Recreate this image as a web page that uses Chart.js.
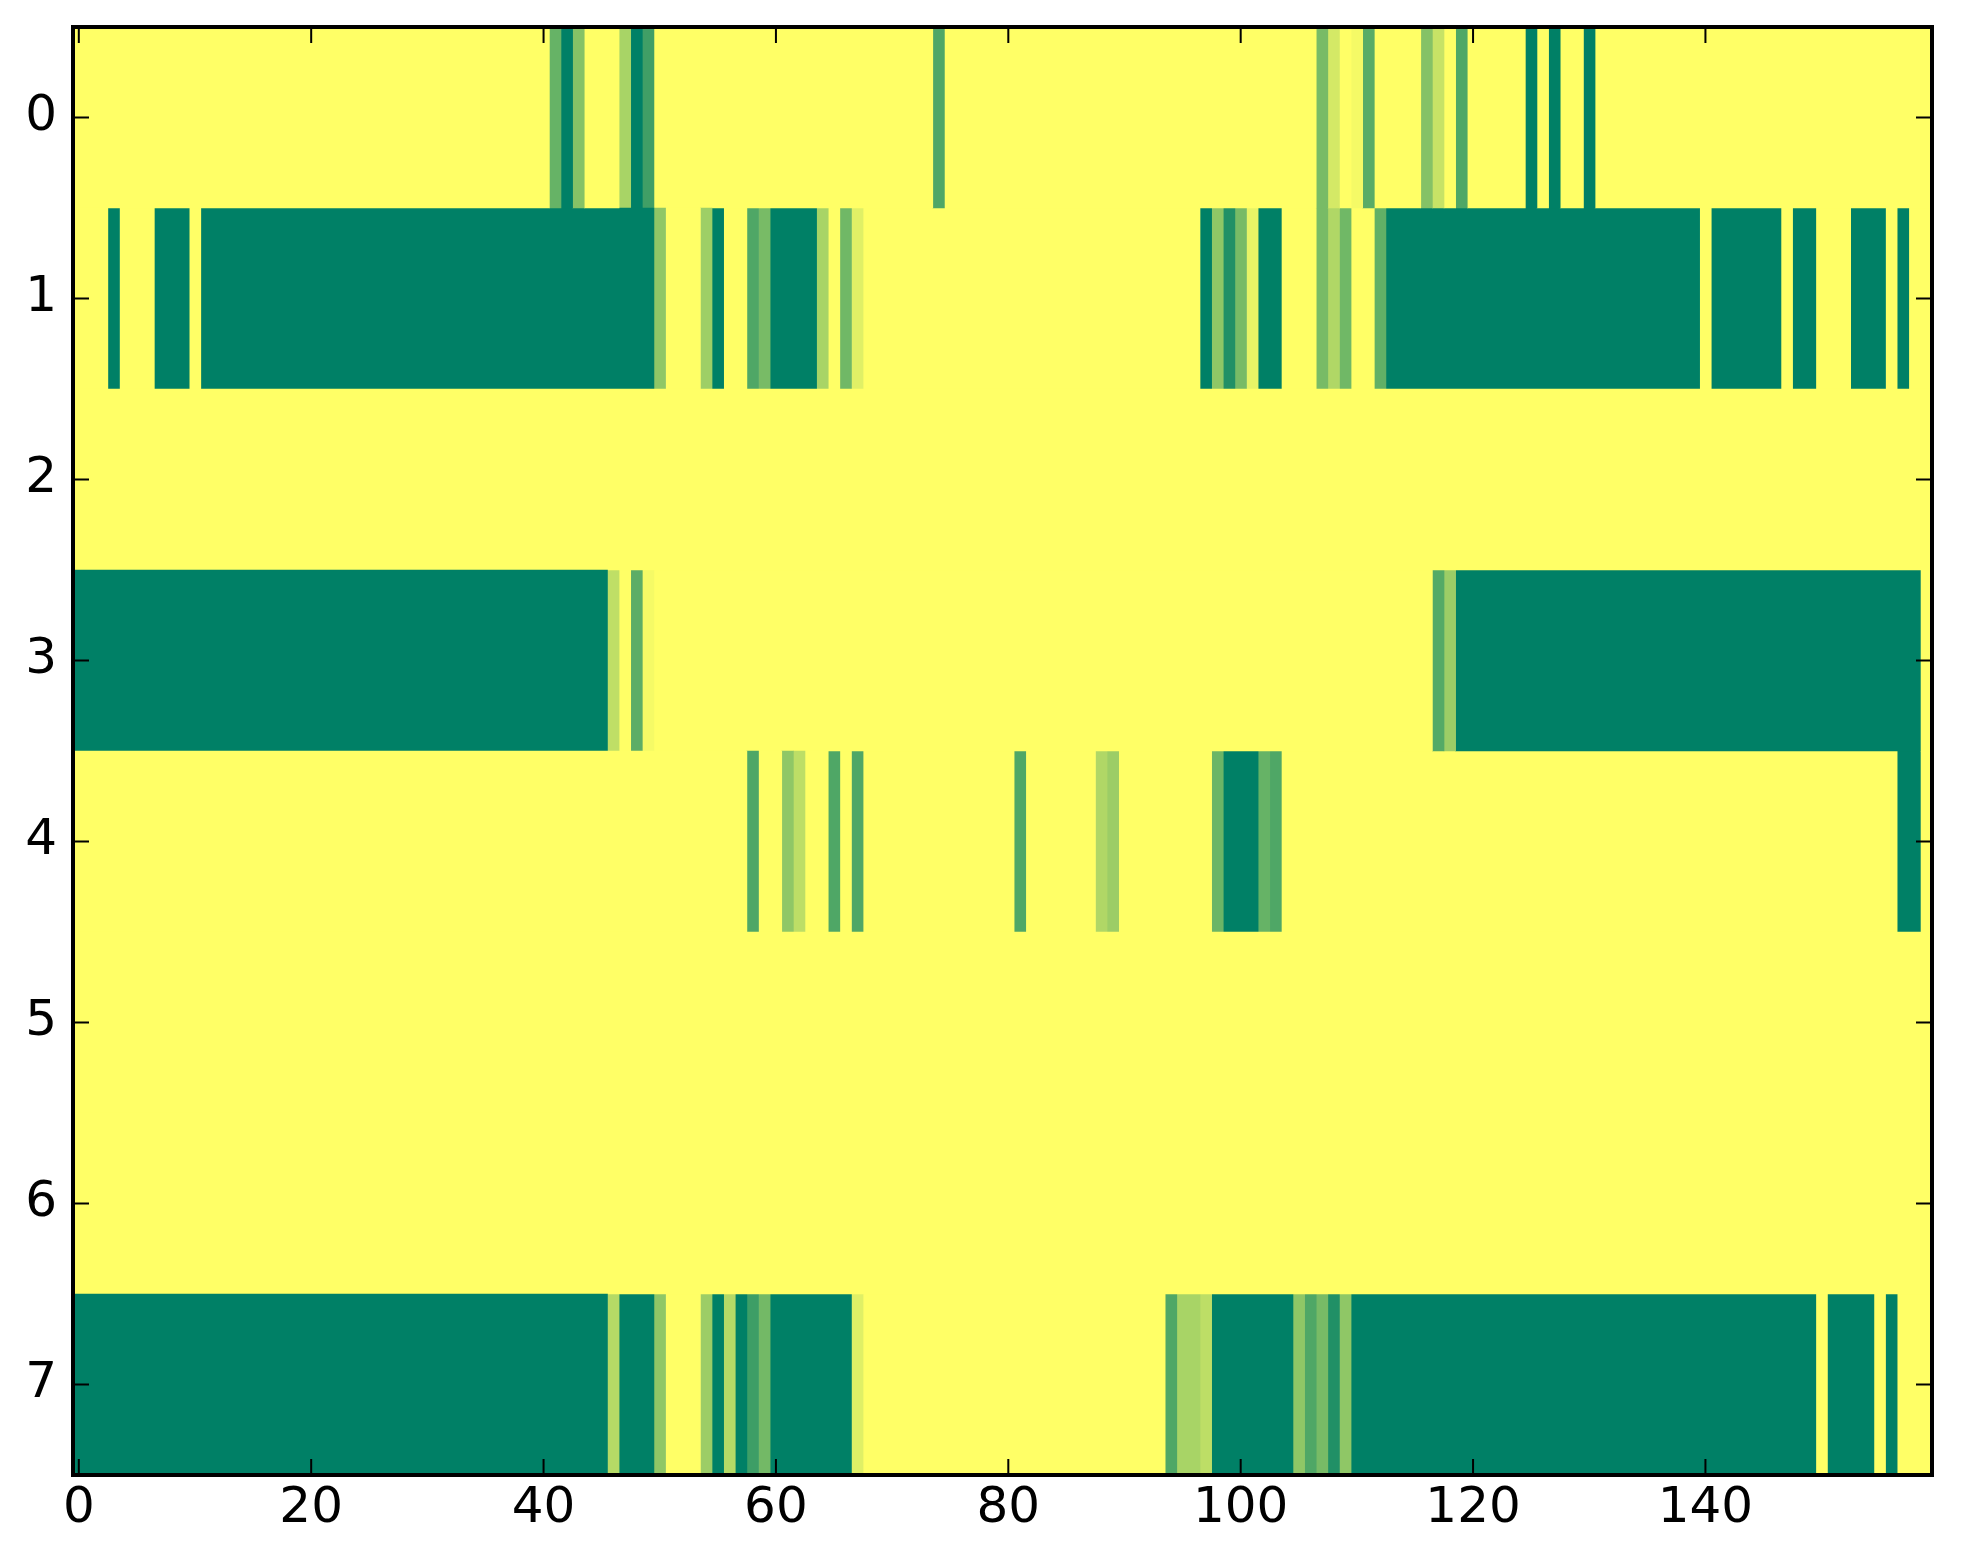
<!DOCTYPE html>
<html>
<head>
<meta charset="utf-8">
<script src="https://cdn.jsdelivr.net/npm/chart.js@4.4.0/dist/chart.umd.min.js"></script>
<style>
  html, body { margin: 0; padding: 0; background: #fff; }
  canvas { display: block; }
</style>
</head>
<body>
<canvas id="heat" width="1963" height="1564"></canvas>
<script>
// 8 rows x 160 columns, values 0..1 (summer colormap)
// every cell is 1 unless listed as [firstCol, lastCol, value]
const nCols = 160;
const rowLabels = ["0", "1", "2", "3", "4", "5", "6", "7"];
const xTicks = [0, 20, 40, 60, 80, 100, 120, 140];

const row0 = [
  [41, 41, 0.40], [42, 42, 0], [43, 43, 0.52], [47, 47, 0.66], [48, 48, 0],
  [49, 49, 0.25], [74, 74, 0.31], [107, 107, 0.47], [108, 108, 0.83],
  [110, 110, 0.96], [111, 111, 0.35], [116, 116, 0.52], [117, 117, 0.78],
  [119, 119, 0.31], [125, 125, 0], [127, 127, 0], [130, 130, 0],
];
const row1 = [
  [3, 3, 0], [7, 9, 0], [11, 49, 0], [50, 50, 0.56], [54, 54, 0.62],
  [55, 55, 0], [58, 58, 0.31], [59, 59, 0.47], [60, 63, 0], [64, 64, 0.66],
  [66, 66, 0.44], [67, 67, 0.88], [97, 97, 0], [98, 98, 0.56], [99, 99, 0.13],
  [100, 100, 0.47], [101, 101, 0.91], [102, 103, 0], [107, 107, 0.47],
  [108, 108, 0.69], [109, 109, 0.44], [112, 112, 0.38], [113, 139, 0],
  [141, 146, 0], [148, 149, 0], [153, 155, 0], [157, 157, 0],
];
const row2 = [];
const row3 = [
  [0, 45, 0], [46, 46, 0.75], [48, 48, 0.36], [49, 49, 0.96],
  [117, 117, 0.33], [118, 118, 0.61], [119, 158, 0],
];
const row4 = [
  [58, 58, 0.31], [61, 61, 0.56], [62, 62, 0.74], [65, 65, 0.31],
  [67, 67, 0.31], [81, 81, 0.31], [88, 88, 0.69], [89, 89, 0.61],
  [98, 98, 0.42], [99, 101, 0], [102, 102, 0.40], [103, 103, 0.31],
  [157, 158, 0],
];
const row5 = [];
const row6 = [];
const row7 = [
  [0, 45, 0], [46, 46, 0.71], [47, 49, 0], [50, 50, 0.56], [54, 54, 0.61],
  [55, 55, 0], [56, 56, 0.71], [57, 57, 0], [58, 58, 0.24], [59, 59, 0.45],
  [60, 66, 0], [67, 67, 0.88], [94, 94, 0.31], [95, 96, 0.66], [97, 97, 0.74],
  [98, 104, 0], [105, 105, 0.56], [106, 106, 0.31], [107, 107, 0.47],
  [108, 108, 0.13], [109, 109, 0.56], [110, 149, 0], [151, 154, 0],
  [156, 156, 0],
];
const rows = [row0, row1, row2, row3, row4, row5, row6, row7];

// matplotlib "summer": (v, 0.5 + 0.5v, 0.4)
function summer(v) {
  const r = Math.round(255 * v);
  const g = Math.round(255 * (0.5 + 0.5 * v));
  return `rgb(${r},${g},102)`;
}

// expand to full grid, then merge equal neighbours into runs
const runsPerRow = rows.map((segs) => {
  const cells = new Array(nCols).fill(1);
  segs.forEach(([a, b, v]) => {
    for (let c = a; c <= b; c++) cells[c] = v;
  });
  const runs = [];
  cells.forEach((v, c) => {
    const last = runs[runs.length - 1];
    if (last && last.v === v) last.end = c;
    else runs.push({ start: c, end: c, v: v });
  });
  return runs;
});

const maxRuns = Math.max(...runsPerRow.map((r) => r.length));
const datasets = [];
for (let k = 0; k < maxRuns; k++) {
  datasets.push({
    data: runsPerRow.map((runs) =>
      runs[k] ? [runs[k].start - 0.5, runs[k].end + 0.5] : null
    ),
    backgroundColor: runsPerRow.map((runs) =>
      runs[k] ? summer(runs[k].v) : "rgba(0,0,0,0)"
    ),
    borderWidth: 0,
    grouped: false,
    barPercentage: 1,
    categoryPercentage: 1,
  });
}

// inward ticks on all four sides plus the frame, like matplotlib classic
const frameTicks = {
  id: "frameTicks",
  afterDraw(chart) {
    const { ctx, chartArea: a, scales } = chart;
    ctx.save();
    ctx.strokeStyle = "#000";
    ctx.lineWidth = 2;
    ctx.beginPath();
    xTicks.forEach((v) => {
      const px = scales.x.getPixelForValue(v);
      ctx.moveTo(px, a.bottom);
      ctx.lineTo(px, a.bottom - 16);
      ctx.moveTo(px, a.top);
      ctx.lineTo(px, a.top + 16);
    });
    rowLabels.forEach((l, i) => {
      const py = scales.y.getPixelForValue(i);
      ctx.moveTo(a.left, py);
      ctx.lineTo(a.left + 16, py);
      ctx.moveTo(a.right, py);
      ctx.lineTo(a.right - 16, py);
    });
    ctx.stroke();
    ctx.lineWidth = 4;
    ctx.strokeRect(a.left, a.top, a.right - a.left, a.bottom - a.top);
    ctx.restore();
  },
};

function noPadding(scale) {
  scale.paddingTop = 0;
  scale.paddingBottom = 0;
  scale.paddingLeft = 0;
  scale.paddingRight = 0;
}

const ctx = document.getElementById("heat").getContext("2d");
const heatChart = new Chart(ctx, {
  type: "bar",
  data: { labels: rowLabels, datasets: datasets },
  options: {
    indexAxis: "y",
    responsive: false,
    animation: false,
    devicePixelRatio: 1,
    layout: { padding: { top: 27, right: 31, left: 0, bottom: 0 } },
    plugins: {
      legend: { display: false },
      tooltip: { enabled: false },
    },
    scales: {
      x: {
        type: "linear",
        min: -0.5,
        max: nCols - 0.5,
        grid: { display: false, drawTicks: false },
        border: { display: false },
        afterBuildTicks: (scale) => {
          scale.ticks = xTicks.map((v) => ({ value: v }));
        },
        afterFit: (scale) => {
          scale.height = 89;
          noPadding(scale);
        },
        ticks: {
          padding: 4,
          maxRotation: 0,
          color: "#000",
          font: { family: "DejaVu Sans", size: 50 },
        },
      },
      y: {
        type: "category",
        grid: { display: false, drawTicks: false },
        border: { display: false },
        afterFit: (scale) => {
          scale.width = 73;
          noPadding(scale);
        },
        ticks: {
          padding: 16,
          color: "#000",
          font: { family: "DejaVu Sans", size: 50 },
        },
      },
    },
  },
  plugins: [frameTicks],
});
</script>
</body>
</html>
